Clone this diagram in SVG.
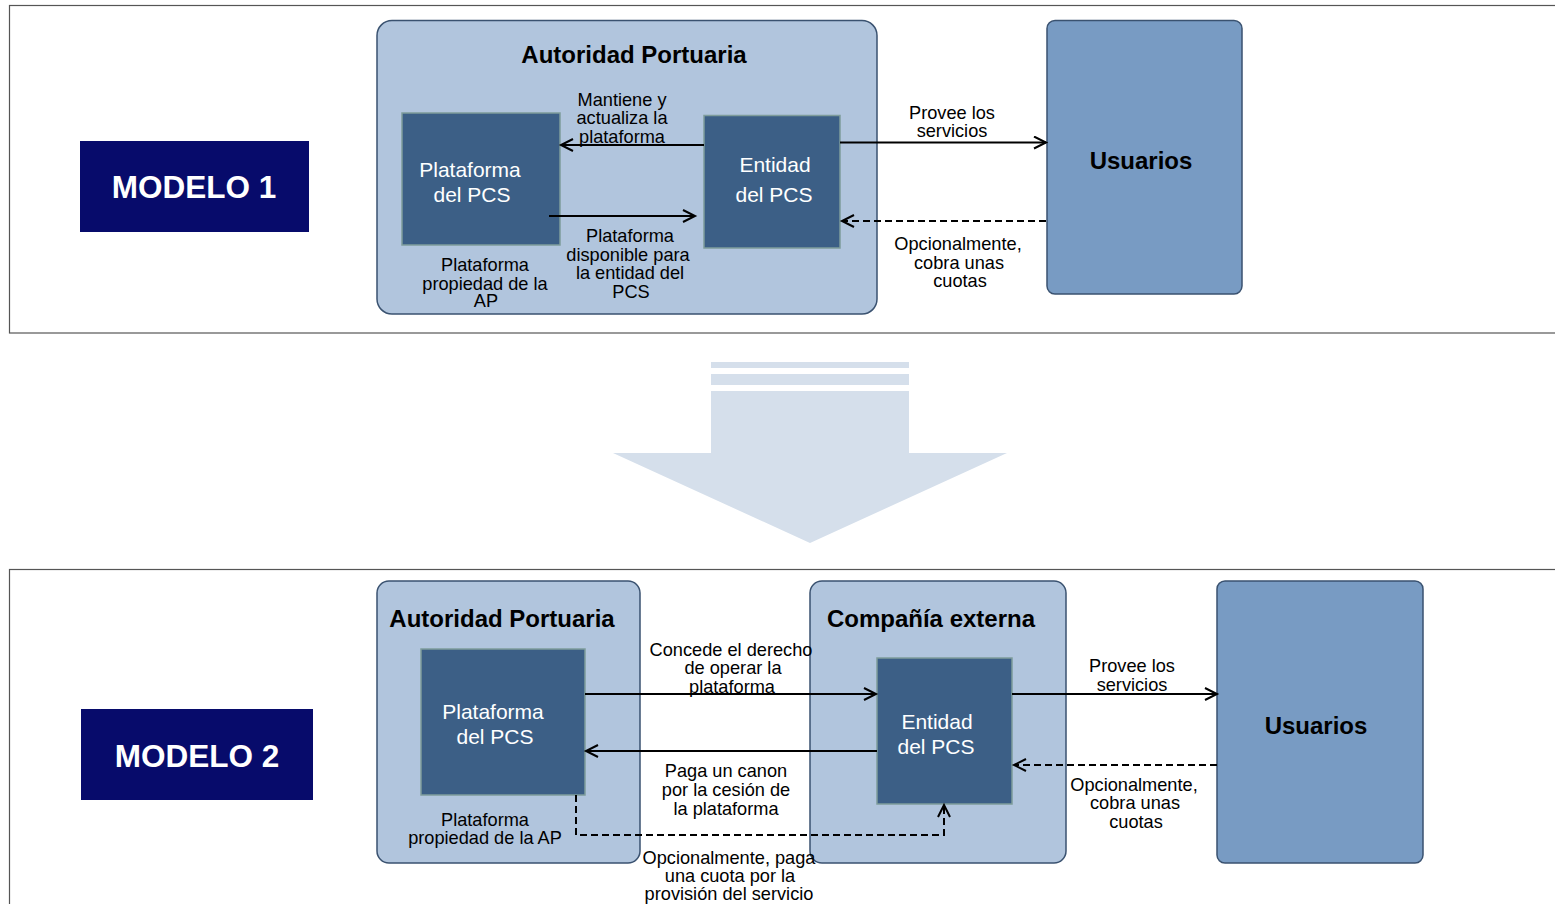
<svg xmlns="http://www.w3.org/2000/svg" width="1555" height="904" viewBox="0 0 1555 904">
<defs>
<style>
.frame{fill:none;stroke:#555;stroke-width:1.2}
.model{fill:#070B6B}
.mtxt{font-family:"Liberation Sans",Arial,sans-serif;font-weight:bold;font-size:31.5px;fill:#fff;text-anchor:middle}
.cont{fill:#B1C5DD;stroke:#3A5270;stroke-width:1.5}
.title{font-family:"Liberation Sans",Arial,sans-serif;font-weight:bold;font-size:24px;fill:#000;text-anchor:middle}
.node{fill:#3C5F86;stroke:#7E9C9B;stroke-width:1.5}
.ntxt{font-family:"Liberation Sans",Arial,sans-serif;font-size:21px;fill:#fff;text-anchor:middle}
.user{fill:#789BC3;stroke:#3A5270;stroke-width:1.5}
.lbl{font-family:"Liberation Sans",Arial,sans-serif;font-size:18.2px;fill:#000;text-anchor:middle}
.ln{fill:none;stroke:#000;stroke-width:2}
.dash{fill:none;stroke:#000;stroke-width:2;stroke-dasharray:7,4}
.big{fill:#D5DFEB}
</style>
<marker id="ah" markerUnits="userSpaceOnUse" markerWidth="16" markerHeight="16" refX="13" refY="7" orient="auto">
<path d="M1,1 L13,7 L1,13" fill="none" stroke="#000" stroke-width="2"/>
</marker>
</defs>

<rect class="frame" x="9.5" y="5.5" width="1570" height="327.5"/>
<rect class="frame" x="9.5" y="569.5" width="1570" height="350"/>

<g id="modelo1"><rect class="model" x="80" y="141" width="229" height="91"/><text class="mtxt" x="194" y="198">MODELO 1</text></g>
<g id="modelo2"><rect class="model" x="81" y="709" width="232" height="91"/><text class="mtxt" x="197" y="767">MODELO 2</text></g>

<g id="big-arrow">
<rect class="big" x="711" y="362" width="198" height="6"/>
<rect class="big" x="711" y="374" width="198" height="11"/>
<path class="big" d="M711,391 H909 V453 H1007 L810,543 L613,453 H711 Z"/>
</g>

<!-- Model 1 -->
<g id="ap1"><rect class="cont" x="377" y="20.5" width="500" height="293.5" rx="15"/><text class="title" x="634" y="63">Autoridad Portuaria</text></g>
<g id="plat1"><rect class="node" x="402" y="113" width="158" height="132"/><text class="ntxt" x="470" y="177">Plataforma</text><text class="ntxt" x="472" y="202">del PCS</text></g>
<g id="ent1"><rect class="node" x="704" y="115.5" width="136" height="132.5"/><text class="ntxt" x="775" y="172">Entidad</text><text class="ntxt" x="774" y="202">del PCS</text></g>
<g id="usu1"><rect class="user" x="1047" y="20.5" width="195" height="273.5" rx="8"/><text class="title" x="1141" y="169">Usuarios</text></g>

<!-- Model 2 -->
<g id="ap2"><rect class="cont" x="377" y="581" width="263" height="282" rx="12"/><text class="title" x="502" y="627">Autoridad Portuaria</text></g>
<g id="plat2"><rect class="node" x="421" y="649" width="164" height="146"/><text class="ntxt" x="493" y="719">Plataforma</text><text class="ntxt" x="495" y="744">del PCS</text></g>
<g id="comp"><rect class="cont" x="810" y="581" width="256" height="282" rx="12"/><text class="title" x="931" y="627">Compañía externa</text></g>
<g id="ent2"><rect class="node" x="877" y="658" width="135" height="146"/><text class="ntxt" x="937" y="729">Entidad</text><text class="ntxt" x="936" y="754">del PCS</text></g>
<g id="usu2"><rect class="user" x="1217" y="581" width="206" height="282" rx="8"/><text class="title" x="1316" y="734">Usuarios</text></g>

<g id="connectors">
<path class="ln" d="M704,145 H561" marker-end="url(#ah)"/>
<path class="ln" d="M549,216 H695" marker-end="url(#ah)"/>
<path class="ln" d="M840,142.5 H1046" marker-end="url(#ah)"/>
<path class="dash" d="M1046,221 H842" marker-end="url(#ah)"/>

<path class="ln" d="M585,694 H876" marker-end="url(#ah)"/>
<path class="ln" d="M877,751 H586" marker-end="url(#ah)"/>
<path class="ln" d="M1012,694 H1217" marker-end="url(#ah)"/>
<path class="dash" d="M1217,765 H1014" marker-end="url(#ah)"/>
<path class="dash" d="M576,795 V835 H944 V805" marker-end="url(#ah)"/>
</g>

<g id="labels">
<text class="lbl" x="622" y="106">Mantiene y</text>
<text class="lbl" x="622" y="124">actualiza la</text>
<text class="lbl" x="622" y="143">plataforma</text>
<text class="lbl" x="630" y="242">Plataforma</text>
<text class="lbl" x="628" y="261">disponible para</text>
<text class="lbl" x="630" y="279">la entidad del</text>
<text class="lbl" x="631" y="298">PCS</text>
<text class="lbl" x="485" y="271">Plataforma</text>
<text class="lbl" x="485" y="290">propiedad de la</text>
<text class="lbl" x="486" y="307">AP</text>
<text class="lbl" x="952" y="119">Provee los</text>
<text class="lbl" x="952" y="137">servicios</text>
<text class="lbl" x="958" y="250">Opcionalmente,</text>
<text class="lbl" x="959" y="269">cobra unas</text>
<text class="lbl" x="960" y="287">cuotas</text>

<text class="lbl" x="731" y="656">Concede el derecho</text>
<text class="lbl" x="733" y="674">de operar la</text>
<text class="lbl" x="732" y="693">plataforma</text>
<text class="lbl" x="726" y="777">Paga un canon</text>
<text class="lbl" x="726" y="796">por la cesión de</text>
<text class="lbl" x="726" y="815">la plataforma</text>
<text class="lbl" x="485" y="826">Plataforma</text>
<text class="lbl" x="485" y="844">propiedad de la AP</text>
<text class="lbl" x="729" y="864">Opcionalmente, paga</text>
<text class="lbl" x="730" y="882">una cuota por la</text>
<text class="lbl" x="729" y="900">provisión del servicio</text>
<text class="lbl" x="1132" y="672">Provee los</text>
<text class="lbl" x="1132" y="691">servicios</text>
<text class="lbl" x="1134" y="791">Opcionalmente,</text>
<text class="lbl" x="1135" y="809">cobra unas</text>
<text class="lbl" x="1136" y="828">cuotas</text>
</g>
</svg>
